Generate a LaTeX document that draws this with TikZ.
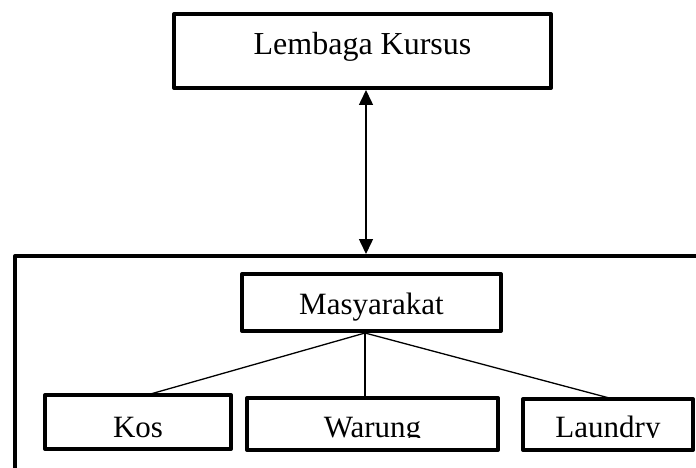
\documentclass[tikz,border=0pt]{standalone}
\usepackage{fontspec}
\setmainfont{Liberation Serif}
\usetikzlibrary{arrows.meta}

\tikzset{
  frame/.style={draw,line width=4pt,line join=round,inner sep=0pt},
  boxtext/.style={inner sep=0pt,outer sep=0pt,font=\fontsize{31}{36}\selectfont},
  link/.style={line width=1.3pt},
  twoway/.style={line width=1.5pt,arrows={Triangle[length=15pt,width=14pt]-Triangle[length=15pt,width=14pt]}},
}

\begin{document}
\begin{tikzpicture}[x=1pt,y=-1pt]
	\useasboundingbox (0,0) rectangle (696,468);
	\clip (0,0) rectangle (696,468);
	\node[frame,minimum width=377pt,minimum height=74pt,text height=16pt,text depth=8pt,font=\fontsize{32}{38}\selectfont] (kursus) at (362.5,51) {Lembaga Kursus};
	\node[frame,minimum width=705pt,minimum height=234pt] (area) at (367.5,373) {};
	\node[frame,minimum width=259pt,minimum height=57pt,text height=23pt,text depth=0pt,font=\fontsize{31}{36}\selectfont] (mas) at (371.5,302.5) {Masyarakat};
	% text of the lower boxes is cut at the baseline
	\begin{scope}
		\clip (0,0) rectangle (696,437);
		\node[boxtext,minimum width=186pt,minimum height=54pt,text height=30pt,text depth=0pt] (kos) at (138,422) {Kos};
		\node[boxtext,minimum width=251pt,minimum height=52pt,text height=26pt,text depth=0pt] (warung) at (372.5,424) {Warung};
		\node[boxtext,minimum width=170pt,minimum height=51pt,text height=25pt,text depth=0pt] (laundry) at (608,424.5) {Laundry};
	\end{scope}
	\foreach \b in {kos,warung,laundry}
		\draw[frame] (\b.south west) rectangle (\b.north east);
	\coordinate (hub) at ([xshift=-6.5pt]mas.south);
	\draw[link] (hub) -- ([xshift=9pt]kos.north);
	\draw[link] (hub) -- ([xshift=-7.5pt]warung.north);
	\draw[link] (hub) -- ([xshift=5pt]laundry.north);
	\coordinate (up) at ([xshift=3.5pt]kursus.south);
	\coordinate (down) at (up |- area.north);
	\draw[twoway] (up) -- (down);
\end{tikzpicture}
\end{document}
